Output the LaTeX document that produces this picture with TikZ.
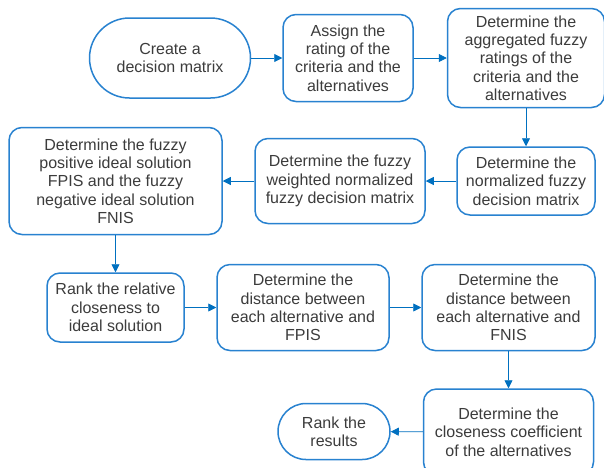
\documentclass[tikz,border=0pt]{standalone}
\usepackage{fontspec}
\setmainfont{Liberation Sans}
\usetikzlibrary{arrows.meta}
\definecolor{boxblue}{RGB}{40,130,208}
\definecolor{arrblue}{RGB}{0,112,192}
\definecolor{txt}{RGB}{60,60,60}
\tikzset{
  stepbox/.style={draw=boxblue, line width=1.5pt, rounded corners=13pt, align=center,
    text=txt, font=\fontsize{16}{18.3}\selectfont, inner sep=0pt, fill=white},
  stadium/.style={stepbox},
  arr/.style={draw=arrblue, line width=0.8pt, -{Triangle[length=8pt,width=8pt]}}
}
\begin{document}
\begin{tikzpicture}[x=1pt,y=-1pt]
\useasboundingbox (0,0) rectangle (604,467);
\clip (0,0) rectangle (604,467);
\fill[white] (0,0) rectangle (604,467);
\node[stadium, rounded corners=40pt, minimum width=161pt, minimum height=80pt] (b1) at (170,58) {Create a\\decision matrix};
\node[stepbox, minimum width=130pt, minimum height=87pt] (b2) at (348,58) {Assign the\\rating of the\\criteria and the\\alternatives};
\node[stepbox, minimum width=157pt, minimum height=99pt] (b3) at (526,58) {Determine the\\aggregated fuzzy\\ratings of the\\criteria and the\\alternatives};
\node[stepbox, minimum width=138pt, minimum height=68pt] (b4) at (526,181) {Determine the\\normalized fuzzy\\decision matrix};
\node[stepbox, minimum width=170pt, minimum height=85pt] (b5) at (340,181) {Determine the fuzzy\\weighted normalized\\fuzzy decision matrix};
\node[stepbox, minimum width=213pt, minimum height=107pt] (b6) at (115.5,181) {Determine the fuzzy\\positive ideal solution\\FPIS and the fuzzy\\negative ideal solution\\FNIS};
\node[stepbox, minimum width=137pt, minimum height=69pt] (b7) at (115.5,307.5) {Rank the relative\\closeness to\\ideal solution};
\node[stepbox, minimum width=172pt, minimum height=86pt] (b8) at (303,307.5) {Determine the\\distance between\\each alternative and\\FPIS};
\node[stepbox, minimum width=173pt, minimum height=86pt] (b9) at (508.5,307.5) {Determine the\\distance between\\each alternative and\\FNIS};
\node[stepbox, minimum width=170pt, minimum height=86pt] (b10) at (508.5,432) {Determine the\\closeness coefficient\\of the alternatives};
\node[stadium, rounded corners=28pt, minimum width=112pt, minimum height=56pt] (b11) at (334,431.5) {Rank the\\results};
\draw[arr] (b1) -- (b2);
\draw[arr] (b2) -- (b3);
\draw[arr] (b3) -- (b4);
\draw[arr] (b4) -- (b5);
\draw[arr] (b5) -- (b6);
\draw[arr] (b6) -- (b7);
\draw[arr] (b7) -- (b8);
\draw[arr] (b8) -- (b9);
\draw[arr] (b9) -- (b10);
\draw[arr] (b10) -- (b11);
\end{tikzpicture}
\end{document}
